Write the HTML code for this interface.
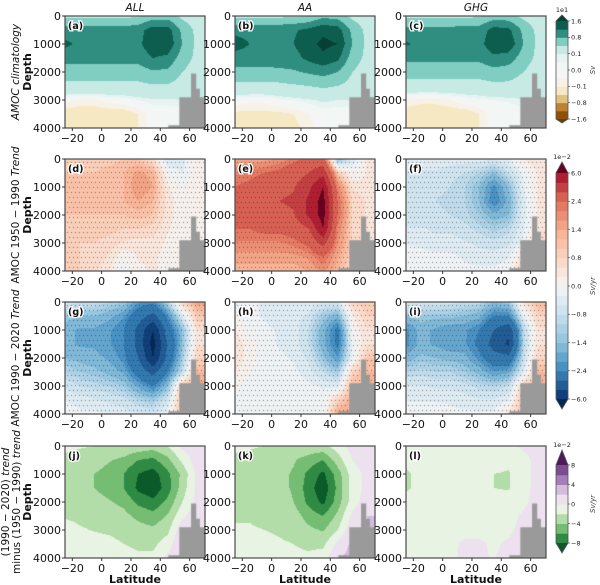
<!DOCTYPE html>
<html><head><meta charset="utf-8">
<style>
body{margin:0;background:#fff;width:600px;height:585px;overflow:hidden;position:relative;font-family:"DejaVu Sans","Liberation Sans",sans-serif}
canvas{position:absolute}
svg{position:absolute;left:0;top:0}
</style></head>
<body>
<div id="wrap"></div>
<svg id="ov" width="600" height="585"></svg>
<script>
// ---- shared grids ----
const lats = [-25,-15,-5,5,15,25,35,45,55,65];
const depths = [0,500,1000,1500,2000,2500,3000,3500,4000];
const xTicks = [-20,0,20,40,60];
const yTicks = [0,1000,2000,3000,4000];
const topoLat = [45.5,45.5,53,53,61,61,64.5,64.5,67,67,70.5,70.5];
const topoDepth = [4000,3900,3900,2900,2900,2050,2050,2600,2600,2900,2900,4000];
// ---- panel data ----
const dataA = [
[0.3,0.3,0.3,0.3,0.3,0.35,0.6,0.6,0.3,0.1],
[1.0,1.0,1.0,1.0,1.0,1.05,1.4,1.4,0.7,0.3],
[1.3,1.1,1.1,1.1,1.1,1.1,1.5,1.5,0.8,0.3],
[0.95,0.95,0.95,0.95,0.95,0.95,1.2,1.1,0.6,0.3],
[0.6,0.6,0.6,0.6,0.6,0.6,0.75,0.7,0.4,0.2],
[0.3,0.3,0.3,0.3,0.3,0.3,0.35,0.35,0.25,0.1],
[-0.02,-0.06,-0.06,-0.02,0.0,0.05,0.08,0.08,0.1,0.1],
[-0.15,-0.15,-0.15,-0.15,-0.15,-0.1,0.0,0.0,0,0],
[-0.15,-0.15,-0.15,-0.15,-0.15,-0.1,0.0,0.0,0,0]];
const dataB = [
[0.3,0.3,0.3,0.3,0.35,0.4,0.7,0.6,0.3,0.1],
[1.1,1.1,1.1,1.1,1.15,1.3,1.5,1.4,0.7,0.3],
[1.35,1.2,1.2,1.2,1.2,1.45,1.7,1.6,0.8,0.3],
[1.05,1.05,1.05,1.05,1.05,1.3,1.5,1.3,0.6,0.3],
[0.65,0.65,0.65,0.7,0.75,0.85,0.95,0.8,0.4,0.2],
[0.3,0.3,0.3,0.3,0.35,0.4,0.45,0.4,0.25,0.1],
[0.0,-0.03,-0.03,0.02,0.05,0.08,0.12,0.1,0.1,0.1],
[-0.12,-0.12,-0.12,-0.12,-0.1,-0.05,0.0,0.0,0,0],
[-0.15,-0.15,-0.15,-0.15,-0.12,-0.08,0.0,0.0,0,0]];
const dataC = [
[0.3,0.3,0.3,0.3,0.3,0.35,0.6,0.55,0.3,0.1],
[0.95,0.95,0.95,0.95,1.0,1.0,1.35,1.3,0.7,0.3],
[1.25,1.1,1.05,1.05,1.05,1.05,1.5,1.5,0.8,0.3],
[0.9,0.9,0.9,0.9,0.9,0.9,1.1,1.0,0.6,0.3],
[0.55,0.55,0.55,0.55,0.55,0.55,0.65,0.6,0.4,0.2],
[0.25,0.25,0.25,0.25,0.25,0.25,0.3,0.3,0.2,0.1],
[-0.05,-0.08,-0.08,-0.05,0.0,0.03,0.05,0.06,0.1,0.1],
[-0.15,-0.15,-0.15,-0.15,-0.15,-0.1,0.0,0.0,0,0],
[-0.15,-0.15,-0.15,-0.15,-0.15,-0.1,0.0,0.0,0,0]];
const dataD = [
[0.9,0.9,0.9,0.9,1.0,1.0,0.6,-0.6,-0.4,0.2],
[1.0,1.0,1.0,1.1,1.2,1.5,1.3,0.0,-0.3,0.2],
[1.1,1.1,1.0,1.1,1.2,1.6,1.4,0.3,0.0,0.2],
[1.1,1.1,1.0,1.1,1.2,1.4,1.2,0.4,0.1,0.2],
[1.0,1.0,1.0,1.0,1.0,1.1,1.0,0.4,0.1,0.2],
[0.9,0.9,0.9,0.9,0.8,0.8,0.7,0.3,0.1,0.2],
[0.8,0.8,0.8,0.7,0.5,0.4,0.4,0.2,0.1,0.2],
[0.8,0.8,0.7,0.5,0.0,0.3,0.3,0.2,0.1,0.2],
[0.8,0.8,0.6,0.3,-0.2,0.2,0.3,0.2,0.1,0.2]];
const dataE = [
[1.4,1.5,1.6,1.8,2.2,2.6,2.8,-1.5,-0.5,0.3],
[2.0,2.2,2.4,2.6,3.0,3.6,4.5,1.0,0.0,0.3],
[2.4,2.6,3.0,3.2,3.5,4.5,6.0,2.0,0.5,0.3],
[2.6,2.8,3.5,3.6,3.8,5.0,6.5,2.4,0.8,0.5],
[2.6,2.8,3.4,3.2,3.5,5.0,6.5,2.4,0.8,0.5],
[2.4,2.4,2.6,2.6,2.8,3.5,6.0,2.0,0.8,0.5],
[2.0,2.0,2.0,2.0,2.2,2.6,4.0,1.8,0.8,0.5],
[1.6,1.6,1.6,1.6,1.6,1.8,2.4,1.4,0.8,0.5],
[1.2,1.2,1.2,1.2,1.2,1.4,1.8,1.2,0.8,0.5]];
const dataF = [
[-0.3,-0.3,-0.3,-0.4,-0.4,-0.4,-0.5,-0.3,0.3,0.5],
[-0.6,-0.6,-0.6,-0.7,-0.8,-1.0,-1.4,-0.8,-0.2,0.3],
[-0.8,-0.8,-0.7,-0.8,-1.0,-1.4,-2.2,-1.4,-0.3,0.3],
[-0.8,-0.8,-0.8,-0.9,-1.0,-1.4,-2.4,-1.6,-0.4,0.3],
[-0.7,-0.7,-0.7,-0.8,-0.9,-1.2,-1.6,-1.4,-0.4,0.3],
[-0.5,-0.5,-0.6,-0.6,-0.7,-0.9,-1.1,-0.9,-0.3,0.5],
[-0.3,-0.3,-0.4,-0.4,-0.5,-0.6,-0.7,-0.6,-0.2,0.8],
[-0.1,-0.2,-0.2,-0.2,-0.3,-0.4,-0.4,-0.3,0.5,0.8],
[0.0,-0.1,-0.1,-0.1,-0.2,-0.2,-0.2,-0.1,1.0,0.8]];
const dataG = [
[-0.6,-0.8,-0.8,-1.0,-1.2,-2.0,-2.2,-1.0,0.8,1.5],
[-1.2,-1.4,-1.4,-1.6,-2.0,-3.0,-4.0,-2.2,-0.5,1.0],
[-1.6,-1.8,-1.8,-2.0,-2.4,-4.0,-6.0,-3.0,-1.4,0.5],
[-1.6,-1.8,-1.8,-2.0,-2.4,-4.0,-6.5,-3.5,-1.4,0.5],
[-1.4,-1.5,-1.6,-1.8,-2.2,-3.6,-6.0,-3.2,-1.2,0.8],
[-1.0,-1.2,-1.3,-1.5,-1.8,-2.8,-4.0,-2.4,-0.8,1.2],
[-0.6,-0.8,-0.9,-1.0,-1.2,-1.8,-2.4,-1.4,1.0,1.5],
[-0.3,-0.4,-0.5,-0.6,-0.7,-1.0,-1.2,-0.6,1.2,1.5],
[0.0,-0.2,-0.2,-0.3,-0.4,-0.5,-0.6,-0.2,1.2,1.5]];
const dataH = [
[-0.2,-0.2,-0.3,-0.4,-0.3,-0.3,-0.5,-0.5,0.8,1.0],
[0.1,-0.2,-0.3,-0.4,-0.4,-0.6,-1.2,-1.6,0.2,0.8],
[0.3,-0.1,-0.2,-0.3,-0.4,-0.8,-1.6,-2.6,0.0,0.5],
[0.5,0.1,-0.1,-0.3,-0.4,-0.8,-1.6,-2.6,-0.2,0.5],
[0.5,0.1,-0.1,-0.2,-0.3,-0.6,-1.3,-2.0,-0.2,1.0],
[0.3,0.0,-0.1,-0.1,-0.2,-0.4,-0.8,-1.2,0.8,1.2],
[0.1,-0.1,-0.1,-0.1,-0.1,-0.2,-0.3,-0.4,1.2,1.2],
[-0.2,-0.2,-0.2,-0.1,-0.1,-0.1,-0.2,0.8,1.4,1.4],
[-0.2,-0.2,-0.2,-0.1,-0.1,-0.1,-0.1,1.5,1.5,1.4]];
const dataI = [
[-0.5,-0.6,-0.6,-0.7,-0.8,-0.9,-1.4,-1.2,0.5,1.2],
[-1.4,-1.2,-1.3,-1.3,-1.4,-1.6,-2.4,-2.4,-0.3,0.8],
[-2.2,-1.6,-1.8,-2.0,-2.0,-2.4,-3.6,-4.5,-1.0,0.5],
[-2.2,-1.6,-1.8,-2.0,-2.0,-2.6,-4.2,-5.0,-1.0,0.5],
[-1.6,-1.3,-1.4,-1.5,-1.6,-2.2,-3.0,-3.2,-0.8,0.8],
[-1.0,-0.9,-1.0,-1.0,-1.2,-1.5,-2.0,-1.8,-0.4,1.2],
[-0.5,-0.5,-0.6,-0.6,-0.7,-0.9,-1.0,-0.8,0.8,1.4],
[-0.3,-0.3,-0.3,-0.3,-0.4,-0.5,-0.5,-0.3,1.2,1.4],
[-0.1,-0.1,-0.1,-0.2,-0.2,-0.2,-0.2,0.5,1.2,1.4]];
const dataJ = [
[-1.5,-1.8,-2.0,-2.0,-2.2,-2.5,-3.0,-2.0,0.5,1.5],
[-2.5,-2.8,-3.0,-3.8,-4.5,-6.0,-6.5,-4.5,-1.5,1.0],
[-3.0,-3.5,-4.0,-4.8,-6.0,-8.0,-9.0,-6.5,-3.5,0.5],
[-3.0,-3.5,-4.0,-4.8,-6.0,-8.5,-9.5,-7.0,-3.0,0.5],
[-2.5,-3.0,-3.2,-3.8,-4.5,-6.5,-7.5,-5.5,-2.0,0.5],
[-2.2,-2.4,-2.6,-3.0,-3.4,-4.5,-5.2,-3.8,-0.5,1.5],
[-1.2,-1.8,-2.1,-2.3,-2.6,-3.2,-3.6,-2.5,1.5,1.5],
[-1.0,-1.0,-1.2,-1.5,-2.0,-2.5,-2.5,-1.0,2.0,2.0],
[-0.5,-0.5,-0.8,-1.0,-1.0,-1.5,-1.5,0.5,2.0,2.0]];
const dataK = [
[-1.5,-1.8,-2.0,-2.2,-2.5,-2.5,-2.5,-1.0,1.0,1.5],
[-2.5,-2.5,-3.0,-3.5,-3.8,-4.8,-6.0,-3.0,0.0,1.0],
[-2.5,-2.5,-3.5,-3.5,-4.2,-6.5,-8.5,-5.0,-1.0,0.5],
[-2.5,-2.5,-3.5,-3.5,-4.2,-7.0,-9.5,-5.5,-1.0,0.5],
[-2.5,-2.5,-3.0,-3.2,-4.0,-6.5,-8.5,-5.0,-1.0,1.0],
[-2.2,-2.2,-2.5,-2.8,-3.0,-4.8,-6.0,-3.5,0.5,2.0],
[-1.8,-1.8,-2.0,-2.2,-2.5,-3.5,-4.2,-2.0,1.5,2.0],
[-1.0,-1.2,-1.5,-1.8,-2.0,-2.5,-2.5,0.5,2.5,2.0],
[-0.5,-0.8,-1.0,-1.2,-1.5,-1.5,-1.0,2.0,2.5,2.0]];
const dataL = [
[-0.5,-0.5,-0.5,-0.5,-0.5,-0.5,-0.5,-0.5,0.3,0.5],
[-1.5,-1.0,-1.0,-1.0,-1.0,-1.0,-1.0,-1.5,-0.5,0.5],
[-2.3,-1.5,-1.7,-1.8,-1.8,-1.8,-2.0,-2.2,-0.5,0.5],
[-2.3,-1.5,-1.7,-1.8,-1.8,-1.8,-2.0,-2.2,-0.5,0.5],
[-1.0,-1.0,-1.0,-1.0,-1.0,-1.0,-1.0,-1.0,-0.3,0.5],
[-0.5,-0.5,-0.5,-0.5,-0.5,-0.5,-0.5,-0.5,0.2,0.8],
[-0.4,-0.4,-0.4,-0.4,-0.4,-0.4,-0.4,-0.3,0.5,0.8],
[-0.3,-0.3,-0.3,-0.3,0.2,0.2,-0.2,0.2,0.8,0.8],
[-0.2,-0.2,-0.2,-0.2,0.2,0.2,-0.1,0.5,0.8,0.8]];

// ---- colour scales ----
const bbBounds = [-1.6,-1.2,-0.8,-0.4,-0.1,-0.05,0,0.05,0.1,0.4,0.8,1.2,1.6];
const bbColors = ["#6b3d08","#8c510a","#bf812d","#dfc27d","#f6e8c3","#f7f1e6","#f5f5f5","#f2f6f5","#e6f3f1","#c7eae5","#80cdc1","#2f8e80","#0d5e4e","#063f33"];
const rbTicks = [-6,-2.4,-1.4,-0.8,0,0.8,1.4,2.4,6];
const rbStops = ["#08306b","#3a87be","#8ec2dd","#c9e0ee","#f5f5f5","#fbd6c2","#f6ad8e","#e0705a","#a50f2a"];
const pgBounds = [-8,-6,-4,-2,0,2,4,6,8];
const pgColors = ["#0b5a2a","#2f8a44","#74bd72","#b2dca8","#e8f3e4","#ede0ef","#d3bcdd","#a57db8","#7b4c90","#4f1a5c"];

function hex(h){return [parseInt(h.substr(1,2),16),parseInt(h.substr(3,2),16),parseInt(h.substr(5,2),16)];}
function bandColor(v,b,c){let i=0;while(i<b.length&&v>=b[i])i++;return c[i];}
function rbT(v){
  if(v<=rbTicks[0])return -0.01; if(v>=rbTicks[8])return 8.01;
  for(let i=0;i<8;i++){if(v<=rbTicks[i+1])return i+(v-rbTicks[i])/(rbTicks[i+1]-rbTicks[i]);}
}
function rbColorT(t){t=Math.max(0,Math.min(8,t));const i=Math.min(7,Math.floor(t)),f=t-i;const a=hex(rbStops[i]),b=hex(rbStops[i+1]);return "rgb("+a.map((x,k)=>Math.round(x+(b[k]-x)*f)).join(",")+")";}
function rbColor(v){let t=rbT(v);let band=Math.floor(t*3);if(band<0)return "#062754";if(band>23)return "#67001f";return rbColorT((band+0.5)/3);}

const scales = {
  bb: v=>bandColor(v,bbBounds,bbColors),
  rb: v=>rbColor(v),
  pg: v=>bandColor(v,pgBounds,pgColors)
};

// ---- layout ----
const colX=[65,235,406], rowY=[16,159,302,446], PW=140, PH=112;
const latMin=-25, latMax=70.5;
const xScale = (lat)=> (lat-latMin)/(latMax-latMin)*PW;
const yScale = (d)=> d/4000*PH;

const panels = [
 {id:"a",d:dataA,s:"bb",r:0,c:0},{id:"b",d:dataB,s:"bb",r:0,c:1},{id:"c",d:dataC,s:"bb",r:0,c:2},
 {id:"d",d:dataD,s:"rb",r:1,c:0},{id:"e",d:dataE,s:"rb",r:1,c:1},{id:"f",d:dataF,s:"rb",r:1,c:2},
 {id:"g",d:dataG,s:"rb",r:2,c:0},{id:"h",d:dataH,s:"rb",r:2,c:1},{id:"i",d:dataI,s:"rb",r:2,c:2},
 {id:"j",d:dataJ,s:"pg",r:3,c:0},{id:"k",d:dataK,s:"pg",r:3,c:1},{id:"l",d:dataL,s:"pg",r:3,c:2}];

function sample(grid,lat,dep){
  let i=0; if(lat<=lats[0]){i=0;lat=lats[0];} else if(lat>=lats[lats.length-1]){i=lats.length-2;lat=lats[lats.length-1];} else {while(lats[i+1]<lat)i++;}
  const tx=(lat-lats[i])/(lats[i+1]-lats[i]);
  let j=Math.min(depths.length-2,Math.floor(dep/500)); const ty=(dep-depths[j])/500;
  const v00=grid[j][i],v01=grid[j][i+1],v10=grid[j+1][i],v11=grid[j+1][i+1];
  return (v00*(1-tx)+v01*tx)*(1-ty)+(v10*(1-tx)+v11*tx)*ty;
}

const wrap=document.getElementById('wrap');
panels.forEach(p=>{
  const cv=document.createElement('canvas');
  cv.width=PW;cv.height=PH;
  cv.style.left=colX[p.c]+'px';cv.style.top=rowY[p.r]+'px';
  
  
  wrap.appendChild(cv);
  const ctx=cv.getContext('2d');
  const f=scales[p.s];
  for(let py=0;py<PH;py++){for(let px=0;px<PW;px+=1){
    const lat=latMin+(px+0.5)/PW*(latMax-latMin), dep=(py+0.5)/PH*4000;
    ctx.fillStyle=f(sample(p.d,lat,dep));ctx.fillRect(px,py,1,1);
  }}
  if(p.r===1||p.r===2){
    ctx.fillStyle='rgba(30,30,30,0.55)';
    for(let py=3;py<PH;py+=5){for(let px=(py%10===3?2:4);px<PW;px+=4){ctx.fillRect(px,py,1,1);}}
  }
  ctx.fillStyle='#9a9a9a';ctx.beginPath();
  topoLat.forEach((l,k)=>{const X=xScale(l),Y=yScale(topoDepth[k]);k?ctx.lineTo(X,Y):ctx.moveTo(X,Y);});
  ctx.closePath();ctx.fill();
});

// ---- overlay SVG ----
const NS="http://www.w3.org/2000/svg";const ov=document.getElementById('ov');
function el(tag,attrs,txt,parent){const e=document.createElementNS(NS,tag);for(const k in attrs)e.setAttribute(k,attrs[k]);if(txt!=null)e.textContent=txt;(parent||ov).appendChild(e);return e;}

panels.forEach(p=>{
  const X=colX[p.c],Y=rowY[p.r];
  const g=el('g',{});
  
  
  const fr=el('rect',{x:X,y:Y,width:PW,height:PH,fill:'none',stroke:'#4a4a4a','stroke-width':1.2},null,g);
  
  
  yTicks.forEach(t=>{
    el('line',{x1:X-3,x2:X,y1:Y+yScale(t),y2:Y+yScale(t),stroke:'#333'},null,g);
    const tl=el('text',{x:X-4,y:Y+yScale(t)+4,'font-size':11,'text-anchor':'end',fill:'#111'},String(t),g);
    
    
  });
  xTicks.forEach(t=>{
    el('line',{x1:X+xScale(t),x2:X+xScale(t),y1:Y+PH,y2:Y+PH+3,stroke:'#333'},null,g);
    const tl=el('text',{x:X+xScale(t),y:Y+PH+14,'font-size':11,'text-anchor':'middle',fill:'#111'},t<0?'\u2212'+(-t):String(t),g);
    
    
  });
  const lb=el('text',{x:X+3,y:Y+13,'font-size':9.5,'font-weight':'bold',fill:'#111',stroke:'#fff','stroke-width':2.5,'paint-order':'stroke'},'('+p.id+')',g);
  
  
  if(p.r===3){
    const xl=el('text',{x:X+PW/2,y:Y+PH+25,'font-size':11,'font-weight':'bold','text-anchor':'middle',fill:'#111'},'Latitude',g);
    
    
  }
  if(p.c===0){
    const yl=el('text',{transform:`translate(${X-34},${Y+PH/2}) rotate(-90)`,'font-size':11,'font-weight':'bold','text-anchor':'middle',fill:'#111'},'Depth',g);
    
    
  }
});
['ALL','AA','GHG'].forEach((t,i)=>{
  const e=el('text',{x:colX[i]+PW/2,y:11,'font-size':10.5,'font-style':'italic','text-anchor':'middle',fill:'#111'},t);
  
  
});
function rowTitle(lines,r,x0){
  lines.forEach((ln,k)=>{
    const e=el('text',{transform:`translate(${x0+k*11},${rowY[r]+PH/2}) rotate(-90)`,'font-size':10.5,'text-anchor':'middle',fill:'#111'},null);
    
    
    ln.forEach(seg=>{el('tspan',{'font-style':seg[1]?'italic':'normal'},seg[0],e);});
  });
}
rowTitle([[['AMOC climatology',1]]],0,19);
rowTitle([[['AMOC 1950 \u2212 1990 ',0],['Trend',1]]],1,19);
rowTitle([[['AMOC 1990 \u2212 2020 ',0],['Trend',1]]],2,19);
rowTitle([[['(1990 \u2212 2020) ',0],['trend',1]],[['minus (1950 \u2212 1990) ',0],['trend',1]]],3,9);

// ---- colorbars ----
function colorbar(name,x,yTop,yRectTop,yRectBot,yBot,colors,topExt,botExt,labels,labelY,unit,unitY,expo){
  const g=el('g',{});
  
  
  const w=12,n=colors.length,h=(yRectBot-yRectTop)/n;
  colors.forEach((c,k)=>{el('rect',{x:x,y:yRectBot-(k+1)*h,width:w,height:h+0.5,fill:c},null,g);});
  el('polygon',{points:`${x},${yRectTop} ${x+w},${yRectTop} ${x+w/2},${yTop}`,fill:topExt},null,g);
  el('polygon',{points:`${x},${yRectBot} ${x+w},${yRectBot} ${x+w/2},${yBot}`,fill:botExt},null,g);
  el('polygon',{points:`${x},${yRectTop} ${x+w/2},${yTop} ${x+w},${yRectTop} ${x+w},${yRectBot} ${x+w/2},${yBot} ${x},${yRectBot}`,fill:'none',stroke:'#555','stroke-width':0.8},null,g);
  labels.forEach((l,k)=>{
    el('line',{x1:x+w,x2:x+w+2,y1:labelY[k],y2:labelY[k],stroke:'#333','stroke-width':0.6},null,g);
    const t=el('text',{x:x+w+3,y:labelY[k]+2.3,'font-size':6.5,fill:'#222'},l,g);
    
    
  });
  const ex=el('text',{x:x+w/2,y:yTop-3,'font-size':6.5,'text-anchor':'middle',fill:'#222'},expo,g);
  
  
  const u=el('text',{transform:`translate(${x+w+27},${unitY}) rotate(-90)`,'font-size':7,'font-style':'italic','text-anchor':'middle',fill:'#444'},unit,g);
  
  
}
colorbar('colorbar-climatology',556,15,21,119,123,bbColors.slice(1,13),bbColors[13],bbColors[0],
  ['1.6','0.8','0.1','0.0','\u22120.1','\u22120.8','\u22121.6'],[21,37.3,53.7,70,86.3,102.7,119],'Sv',70,'1e1');
const rbBandCols=[];for(let k=0;k<24;k++)rbBandCols.push(rbColorT((k+0.5)/3));
colorbar('colorbar-trend',556,162,173,399,409,rbBandCols,'#67001f','#062754',
  ['6.0','2.4','1.4','0.8','0.0','\u22120.8','\u22121.4','\u22122.4','\u22126.0'],[173,201.25,229.5,257.75,286,314.25,342.5,370.75,399],'Sv/yr',286,'1e\u22122');
colorbar('colorbar-difference',556,450,465,543,553,pgColors.slice(1,9),pgColors[9],pgColors[0],
  ['8','4','0','\u22124','\u22128'],[465,484.5,504,523.5,543],'Sv/yr',504,'1e\u22122');
</script>
</body></html>
